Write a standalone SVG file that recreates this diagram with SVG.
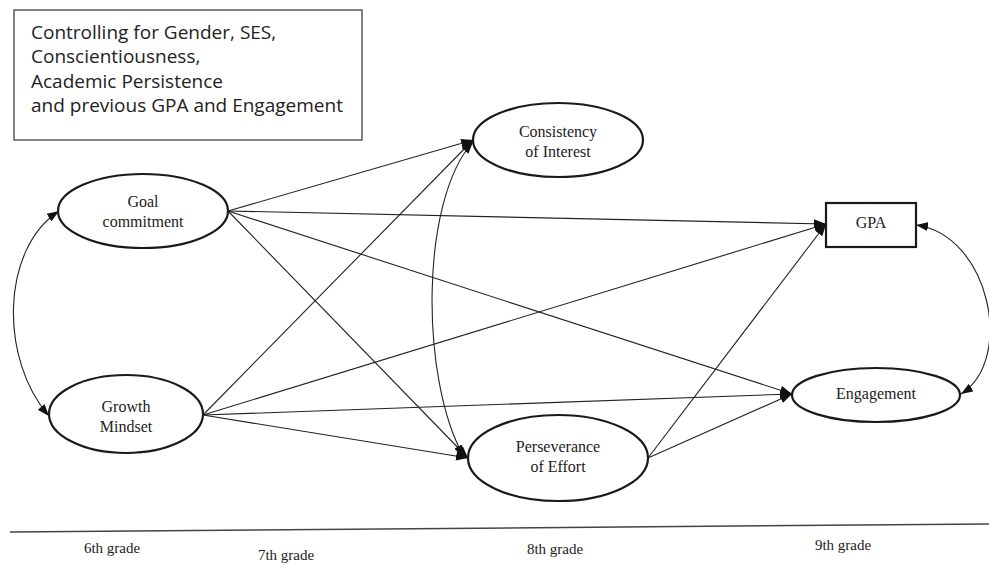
<svg xmlns="http://www.w3.org/2000/svg" width="989" height="565" viewBox="0 0 989 565">
<defs>
<marker id="arr" viewBox="0 0 12 9" refX="12" refY="4.5" markerWidth="12" markerHeight="9" markerUnits="userSpaceOnUse" orient="auto-start-reverse">
<path d="M0,0 L12,4.5 L0,9 z" fill="#111"/>
</marker>
<style>
.node{fill:#fff;stroke:#1a1a1a;stroke-width:2.2}
.lbl{font-family:"Liberation Serif","Times New Roman",serif;font-size:16px;fill:#222;text-anchor:middle}
.grade{font-family:"Liberation Serif","Times New Roman",serif;font-size:15px;fill:#222;text-anchor:middle}
.edge{fill:none;stroke:#222;stroke-width:1.1;marker-end:url(#arr)}
.dbl{fill:none;stroke:#222;stroke-width:1.1;marker-start:url(#arr);marker-end:url(#arr)}
.note{font-family:"Open Sans","Noto Sans",sans-serif;font-size:19px;fill:#222}
</style>
</defs>
<rect width="989" height="565" fill="#fff"/>

<g id="note">
<rect x="14" y="10" width="348" height="130" fill="#fff" stroke="#333" stroke-width="1.2"/>
<text class="note" x="31" y="39">Controlling for Gender, SES,</text>
<text class="note" x="31" y="63">Conscientiousness,</text>
<text class="note" x="31" y="88">Academic Persistence</text>
<text class="note" x="31" y="112">and previous GPA and Engagement</text>
</g>

<g id="connectors">
<line class="edge" x1="228" y1="211" x2="473" y2="140"/>
<line class="edge" x1="228" y1="211" x2="826" y2="224"/>
<line class="edge" x1="228" y1="211" x2="792" y2="394"/>
<line class="edge" x1="228" y1="211" x2="468" y2="458"/>
<line class="edge" x1="203" y1="415" x2="473" y2="140"/>
<line class="edge" x1="203" y1="415" x2="826" y2="224"/>
<line class="edge" x1="203" y1="415" x2="792" y2="394"/>
<line class="edge" x1="203" y1="415" x2="468" y2="458"/>
<line class="edge" x1="648" y1="458" x2="826" y2="224"/>
<line class="edge" x1="648" y1="458" x2="792" y2="394"/>
<path class="dbl" d="M59,211 C0,250 0,360 49,416"/>
<path class="dbl" d="M473,142 C420,200 420,380 464,457"/>
<path class="dbl" d="M916,225 C990,235 1015,360 961,394"/>
</g>

<g id="goal">
<ellipse class="node" cx="143" cy="211" rx="85" ry="37"/>
<text class="lbl" x="143" y="207">Goal</text>
<text class="lbl" x="143" y="227">commitment</text>
</g>

<g id="growth">
<ellipse class="node" cx="126" cy="414" rx="77" ry="39"/>
<text class="lbl" x="126" y="412">Growth</text>
<text class="lbl" x="126" y="432">Mindset</text>
</g>

<g id="consistency">
<ellipse class="node" cx="558" cy="140" rx="85" ry="37"/>
<text class="lbl" x="558" y="137">Consistency</text>
<text class="lbl" x="558" y="157">of Interest</text>
</g>

<g id="perseverance">
<ellipse class="node" cx="558" cy="458" rx="90" ry="43"/>
<text class="lbl" x="558" y="452">Perseverance</text>
<text class="lbl" x="558" y="472">of Effort</text>
</g>

<g id="gpa">
<rect class="node" x="826" y="203" width="90" height="44"/>
<text class="lbl" x="871" y="228">GPA</text>
</g>

<g id="engagement">
<ellipse class="node" cx="876" cy="395" rx="84" ry="27"/>
<text class="lbl" x="876" y="399">Engagement</text>
</g>

<g id="timeline">
<line x1="10" y1="532" x2="989" y2="524" stroke="#444" stroke-width="1.5"/>
<text class="grade" x="112" y="553">6th grade</text>
<text class="grade" x="286" y="560">7th grade</text>
<text class="grade" x="555" y="554">8th grade</text>
<text class="grade" x="843" y="550">9th grade</text>
</g>
</svg>
